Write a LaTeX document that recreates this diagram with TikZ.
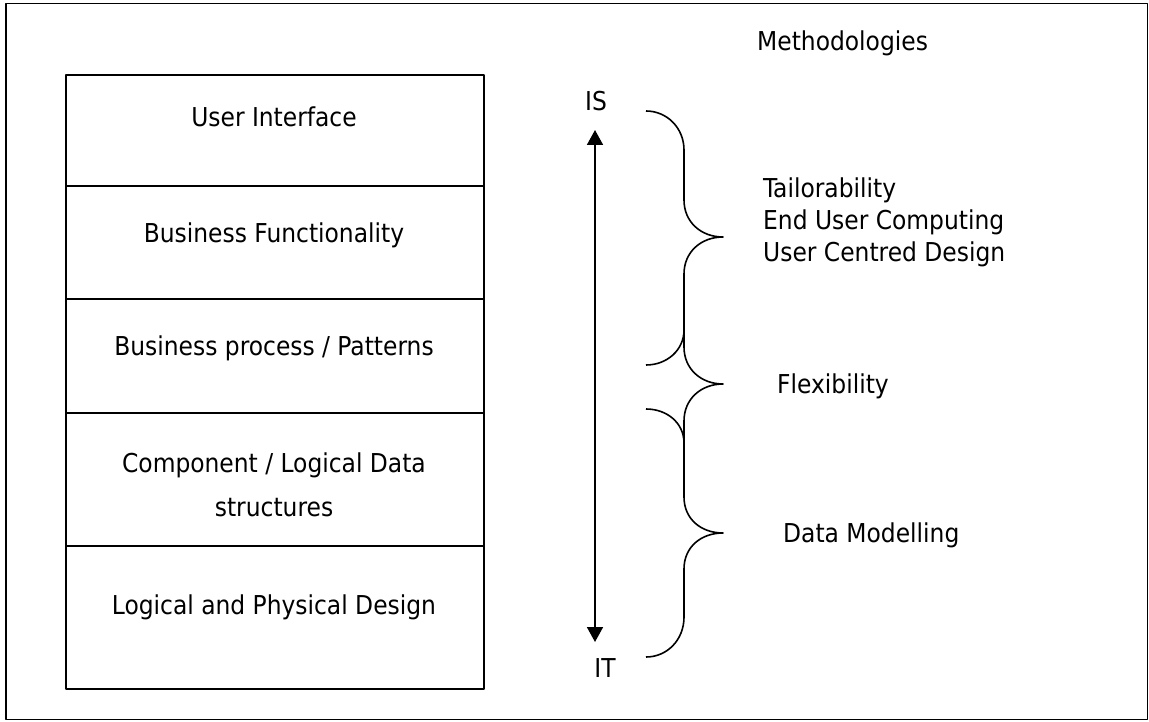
\documentclass[tikz,border=0pt]{standalone}
\usepackage{fontspec}
\setmainfont{DejaVu Sans Condensed}
\usetikzlibrary{arrows.meta}
\begin{document}
\begin{tikzpicture}[x=1bp,y=-1bp,line join=round,
  txt/.style={font=\fontsize{26bp}{32bp}\selectfont, inner sep=0pt},
  layer/.style={draw, line width=2.2bp, minimum width=418bp, inner sep=0pt,
    anchor=north west},
  layertext/.style={txt, anchor=base, align=center},
  brace/.style={line width=1.6bp},
  axis/.style={line width=1.8bp,
    {Triangle[length=15bp,width=16bp]}-{Triangle[length=15bp,width=16bp]}}]
\useasboundingbox (0,0) rectangle (1149,722);
% outer frame
\draw[line width=1.8bp] (6,3.5) rectangle (1147.5,719.5);

% stack of layers
\node[layer, minimum height=111bp] (ui)   at (65,74)  {};
\node[layer, minimum height=113bp] (bf)   at (65,185) {};
\node[layer, minimum height=114bp] (bp)   at (65,298) {};
\node[layer, minimum height=133bp] (comp) at (65,412) {};
\node[layer, minimum height=143bp] (lp)   at (65,545) {};
\node[layertext] (uit)   at (274,127)   {User Interface};
\node[layertext] (bft)   at (274,242.5) {Business Functionality};
\node[layertext] (bpt)   at (274,355.5) {Business process / Patterns};
\node[layertext] (compt) at (274,516.5) {Component / Logical Data\\[12bp]structures};
\node[layertext] (lpt)   at (274,614.5) {Logical and Physical Design};

% IS -- IT axis
\node[txt] (is) at (596,101.5) {IS};
\node[txt] (it) at (605,668.5) {IT};
\coordinate (axtop) at (595,130);
\coordinate (axbot) at (595,642);
\draw[axis] (axtop) -- (axbot);

% braces
\draw[brace] (646,111) .. controls (667,111) and (684,128) .. (684,150)
  -- (684,200) .. controls (684,222) and (701,237) .. (723,237)
  .. controls (701,237) and (684,252) .. (684,274)
  -- (684,330) .. controls (684,350) and (667,365) .. (646,365);
\draw[brace] (684,320) -- (684,347) .. controls (684,369) and (701,384) .. (723,384)
  .. controls (701,384) and (684,399) .. (684,421) -- (684,450);
\draw[brace] (646,409) .. controls (667,409) and (684,423) .. (684,443)
  -- (684,497) .. controls (684,519) and (701,533) .. (723,533)
  .. controls (701,533) and (684,547) .. (684,569)
  -- (684,617) .. controls (684,640) and (667,657) .. (646,657);

% labels
\node[txt, anchor=base west] (meth) at (757,51) {Methodologies};
\node[txt, anchor=north west, align=left] (tail) at (763,178)
  {Tailorability\\End User Computing\\User Centred Design};
\node[txt, anchor=base west] (flex) at (777,393) {Flexibility};
\node[txt, anchor=base west] (dm) at (783,542) {Data Modelling};
\end{tikzpicture}
\end{document}
